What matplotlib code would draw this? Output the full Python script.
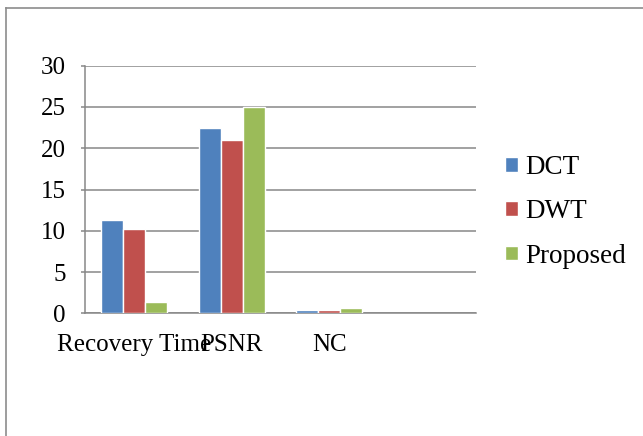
import numpy as np
import matplotlib.pyplot as plt
from matplotlib.lines import Line2D

# --- Data ---
categories = ["Recovery Time", "PSNR", "NC"]
series_names = ["DCT", "DWT", "Proposed"]
dct = [11.3, 22.5, 0.4]
dwt = [10.2, 21.0, 0.4]
proposed = [1.4, 25.0, 0.7]
colors = ["#4F81BD", "#C0504D", "#9BBB59"]
yticks = [0, 5, 10, 15, 20, 25, 30]

plt.rcParams['font.family'] = ['Liberation Serif', 'DejaVu Serif']

fig = plt.figure(figsize=(6.43, 4.36), dpi=100)
ax = fig.add_axes([0.1322, 0.2814, 0.6081, 0.5679])

grid_color = "#878787"
x = np.arange(len(categories))
w = 0.225
for i, (vals, name) in enumerate(zip([dct, dwt, proposed], series_names)):
    ax.bar(x + (i - 1) * w, vals, width=w, color=colors[i], label=name,
           edgecolor="white", linewidth=1.0, zorder=3)

# four category slots, the last one left empty
ax.set_xlim(-0.5, 3.5)
ax.set_ylim(0, 30)
ax.set_yticks(yticks)
ax.set_xticks(x)
ax.set_xticklabels(categories)

ax.yaxis.grid(True, color=grid_color, linewidth=1.1, zorder=0)
ax.set_axisbelow(True)
for side in ["top", "right"]:
    ax.spines[side].set_visible(False)
for side in ["left", "bottom"]:
    ax.spines[side].set_color(grid_color)
    ax.spines[side].set_linewidth(1.1)

ax.tick_params(axis="y", length=3, width=1.1, color=grid_color, pad=11,
               labelsize=18)
ax.tick_params(axis="x", length=0, pad=15, labelsize=18)

leg = ax.legend(loc="center left", bbox_to_anchor=(0.786, 0.514),
                bbox_transform=fig.transFigure, frameon=False, fontsize=19.5,
                handlelength=0.45, handleheight=0.45, handletextpad=0.28,
                labelspacing=0.71, borderaxespad=0, borderpad=0)

# outer frame: left and top edges only
fig.add_artist(Line2D([6 / 643, 6 / 643], [0, 1 - 8 / 436],
                      transform=fig.transFigure, color="#8c8c8c", linewidth=1.2))
fig.add_artist(Line2D([6 / 643, 1], [1 - 8 / 436, 1 - 8 / 436],
                      transform=fig.transFigure, color="#8c8c8c", linewidth=1.2))

fig.savefig("out.png", dpi=100)
